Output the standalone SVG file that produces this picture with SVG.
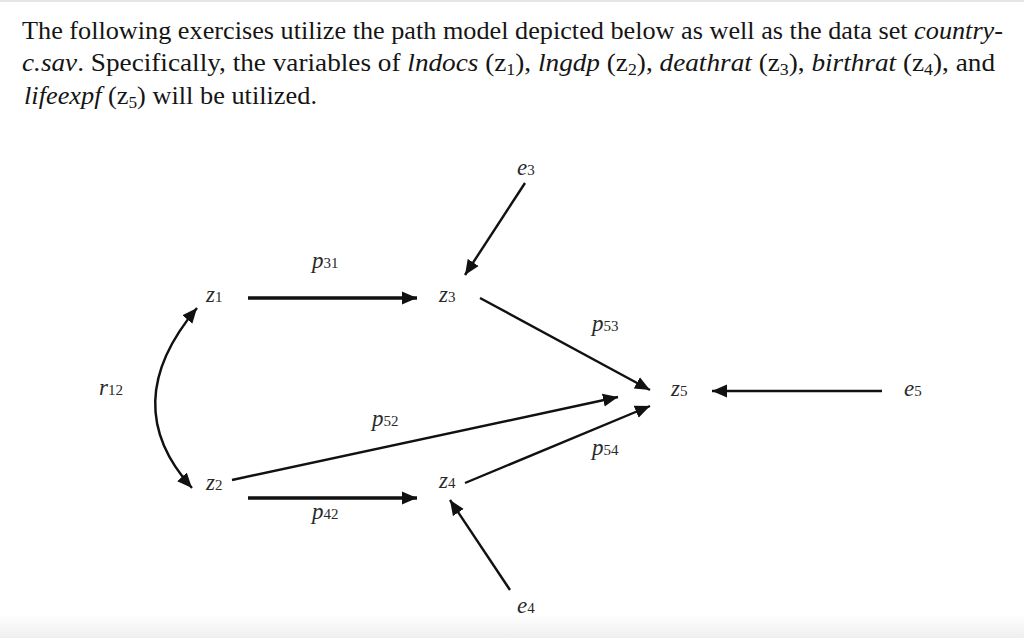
<svg xmlns="http://www.w3.org/2000/svg" width="1024" height="638" viewBox="0 0 1024 638">
<defs>
<linearGradient id="bot" x1="0" y1="0" x2="0" y2="1">
<stop offset="0" stop-color="#ffffff"/>
<stop offset="1" stop-color="#efefef"/>
</linearGradient>
<marker id="ah" markerUnits="userSpaceOnUse" markerWidth="18" markerHeight="14" refX="15" refY="6.5" orient="auto-start-reverse" viewBox="0 0 18 13">
<path d="M0,0 L15,6.5 L0,13 z" fill="#111"/>
</marker>
<style>
.para{font-family:"Liberation Serif","Times New Roman",serif;font-size:26px;fill:#151515}
.it{font-style:italic}
.sub{font-size:17px}
.lbl{font-family:"Liberation Serif","Times New Roman",serif;font-size:23px;font-style:italic;fill:#2a2a2a}
.ls{font-size:15px;font-style:normal}
.c{fill:none;stroke:#111;stroke-width:2.4;marker-end:url(#ah)}
.thick{stroke-width:3.4}
</style>
</defs>
<rect width="1024" height="638" fill="#fff"/>
<rect x="0" y="0" width="1024" height="2" fill="#e6e6e6"/>
<rect x="0" y="614" width="1024" height="24" fill="url(#bot)"/>

<g id="intro">
<text class="para" x="22" y="39" textLength="981" lengthAdjust="spacingAndGlyphs">The following exercises utilize the path model depicted below as well as the data set <tspan class="it">country-</tspan></text>
<text class="para" x="22" y="71" textLength="973" lengthAdjust="spacingAndGlyphs"><tspan class="it">c.sav</tspan>. Specifically, the variables of <tspan class="it">lndocs</tspan> (z<tspan class="sub" dy="4">1</tspan><tspan dy="-4">), </tspan><tspan class="it">lngdp</tspan> (z<tspan class="sub" dy="4">2</tspan><tspan dy="-4">), </tspan><tspan class="it">deathrat</tspan> (z<tspan class="sub" dy="4">3</tspan><tspan dy="-4">), </tspan><tspan class="it">birthrat</tspan> (z<tspan class="sub" dy="4">4</tspan><tspan dy="-4">), and</tspan></text>
<text class="para" x="24" y="104" textLength="293" lengthAdjust="spacingAndGlyphs"><tspan class="it">lifeexpf</tspan> (z<tspan class="sub" dy="4">5</tspan><tspan dy="-4">) will be utilized.</tspan></text>
</g>

<g id="connectors">
<path class="c thick" d="M248 298 L417 298"/>
<path class="c thick" d="M248 498 L417 498"/>
<path class="c" d="M525 183 L465 275"/>
<path class="c" d="M480 298 L650 390"/>
<path class="c" d="M232 480 L618 397"/>
<path class="c" d="M465 483 L650 406"/>
<path class="c" d="M882 391 L712 391"/>
<path class="c" d="M510 590 L450 500"/>
<path class="c" d="M197 308 Q116 404 192 488" style="marker-start:url(#ah)"/>
</g>

<g id="z1"><text class="lbl" x="206" y="302">z<tspan class="ls">1</tspan></text></g>
<g id="z2"><text class="lbl" x="206" y="490">z<tspan class="ls">2</tspan></text></g>
<g id="z3"><text class="lbl" x="439" y="302">z<tspan class="ls">3</tspan></text></g>
<g id="z4"><text class="lbl" x="439" y="488">z<tspan class="ls">4</tspan></text></g>
<g id="z5"><text class="lbl" x="671" y="396">z<tspan class="ls">5</tspan></text></g>
<g id="e3"><text class="lbl" x="517" y="175">e<tspan class="ls">3</tspan></text></g>
<g id="e4"><text class="lbl" x="517" y="613">e<tspan class="ls">4</tspan></text></g>
<g id="e5"><text class="lbl" x="904" y="396">e<tspan class="ls">5</tspan></text></g>

<g id="labels">
<text class="lbl" x="99" y="395">r<tspan class="ls">12</tspan></text>
<text class="lbl" x="312" y="268">p<tspan class="ls">31</tspan></text>
<text class="lbl" x="312" y="519">p<tspan class="ls">42</tspan></text>
<text class="lbl" x="372" y="426">p<tspan class="ls">52</tspan></text>
<text class="lbl" x="592" y="331">p<tspan class="ls">53</tspan></text>
<text class="lbl" x="592" y="455">p<tspan class="ls">54</tspan></text>
</g>
</svg>
